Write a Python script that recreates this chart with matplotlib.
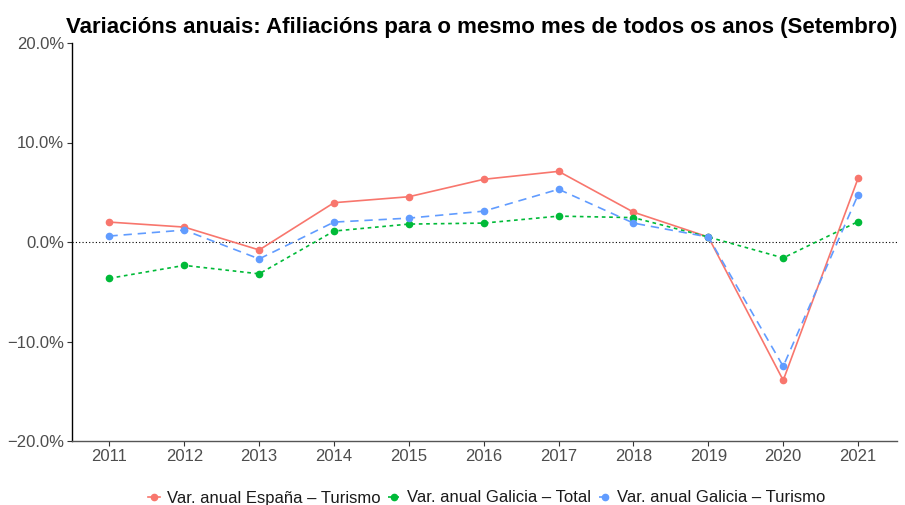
import matplotlib
matplotlib.use("Agg")
import matplotlib.pyplot as plt
from matplotlib.ticker import FuncFormatter

plt.rcParams['font.family'] = ['Liberation Sans', 'DejaVu Sans']

years = [2011, 2012, 2013, 2014, 2015, 2016, 2017, 2018, 2019, 2020, 2021]
espana_turismo = [2.0, 1.5, -0.8, 3.95, 4.55, 6.3, 7.1, 3.0, 0.5, -13.9, 6.4]
galicia_total = [-3.65, -2.35, -3.2, 1.1, 1.8, 1.9, 2.6, 2.45, 0.5, -1.6, 2.05]
galicia_turismo = [0.6, 1.2, -1.7, 2.0, 2.4, 3.1, 5.3, 1.9, 0.5, -12.5, 4.75]

labels = ["Var. anual España \u2013 Turismo",
          "Var. anual Galicia \u2013 Total",
          "Var. anual Galicia \u2013 Turismo"]
colors = ["#F8766D", "#00BA38", "#619CFF"]
title = "Variacións anuais: Afiliacións para o mesmo mes de todos os anos (Setembro)"

fig = plt.figure(figsize=(9.05, 5.05), dpi=100)
ax = fig.add_axes([72/905, 1-441/505, (897-72)/905, (441-43)/505])

ax.axhline(0, color="black", lw=0.8, ls=(0, (1, 2)), zorder=1)

series = [espana_turismo, galicia_total, galicia_turismo]
styles = ["-", (0, (2.2, 2.2)), (0, (5, 3.5))]
for vals, lab, col, st in zip(series, labels, colors, styles):
    ax.plot(years, vals, color=col, ls=st, lw=1.2, marker="o", ms=4.5,
            label=lab, zorder=3)

ax.set_xlim(2010.5, 2021.52)
ax.set_ylim(-20, 20)
ax.set_xticks(years)
ax.set_yticks([-20, -10, 0, 10, 20])
ax.yaxis.set_major_formatter(FuncFormatter(lambda v, p: f"{v:.1f}%".replace("-", "\u2212")))

for s in ["top", "right"]:
    ax.spines[s].set_visible(False)
ax.spines["left"].set_color("black")
ax.spines["left"].set_linewidth(1.0)
ax.spines["bottom"].set_color("#555555")
ax.spines["bottom"].set_linewidth(1.0)
ax.tick_params(axis="both", labelsize=12, labelcolor="#4D4D4D", color="#333333",
               length=3.5, width=0.8, pad=2)

fig.text(66/905, 1-33/505, title, fontsize=16, fontweight="bold", ha="left", va="baseline")

leg = fig.legend(loc="center", bbox_to_anchor=(487/905, 1-498/505), ncol=3, frameon=False,
                 fontsize=12, handlelength=0.7, handletextpad=0.4, columnspacing=0.5,
                 borderaxespad=0)
for t in leg.get_texts():
    t.set_color("#1A1A1A")

fig.savefig("out.png", dpi=100)
